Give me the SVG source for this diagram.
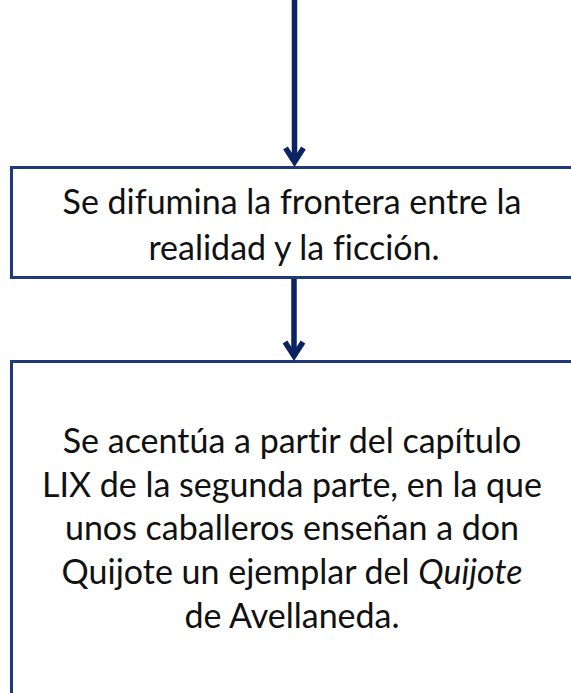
<svg xmlns="http://www.w3.org/2000/svg" width="571" height="693" viewBox="0 0 571 693">
<style>
.box{fill:#ffffff;stroke:#1f3a76;stroke-width:3}
.arr{stroke:#0b2361;stroke-width:5.5;fill:none}
.head{stroke:#0b2361;stroke-width:5.5;fill:none;stroke-linecap:butt;stroke-linejoin:miter}
text{font-family:Lato,"Liberation Sans",sans-serif;font-size:34px;fill:#111111;text-anchor:middle;font-variant-ligatures:none}
</style>
<rect width="571" height="693" fill="#ffffff"/>
<g id="connectors">
<line class="arr" x1="294.5" y1="0" x2="294.5" y2="160"/>
<polyline class="head" points="285.5,148 294.5,162 303.5,148"/>
<line class="arr" x1="294" y1="278" x2="294" y2="357"/>
<polyline class="head" points="285,342 294,356 303,342"/>
</g>
<g id="node1">
<rect class="box" x="11.5" y="167.5" width="580" height="110"/>
<text x="292" y="214">Se difumina la frontera entre la</text>
<text x="294" y="260">realidad y la ficción.</text>
</g>
<g id="node2">
<rect class="box" x="11.5" y="361.5" width="580" height="360"/>
<text x="292" y="453">Se acentúa a partir del capítulo</text>
<text x="292" y="497">LIX de la segunda parte, en la que</text>
<text x="292" y="540">unos caballeros enseñan a don</text>
<text x="292" y="584">Quijote un ejemplar del <tspan font-style="italic">Quijote</tspan></text>
<text x="292" y="628">de Avellaneda.</text>
</g>
</svg>
